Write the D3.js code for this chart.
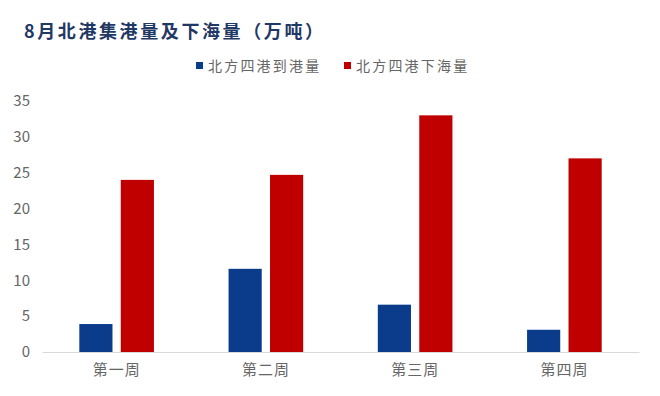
<!DOCTYPE html>
<html>
<head>
<meta charset="utf-8">
<script src="https://cdn.jsdelivr.net/npm/d3@7"></script>
<style>
  body { margin: 0; background: #fff; }
  text { font-family: "Noto Sans CJK SC", "DejaVu Sans", sans-serif; }
</style>
</head>
<body>
<svg id="chart"></svg>
<script>
// data
const weeks = ["第一周", "第二周", "第三周", "第四周"];
const seriesNames = ["北方四港到港量", "北方四港下海量"];
const arrivals = [3.9, 11.6, 6.6, 3.1];
const shipments = [24.0, 24.7, 33.0, 27.0];
const yTicks = [0, 5, 10, 15, 20, 25, 30, 35];
const colors = ["#0b3c8c", "#c00000"];

const width = 660, height = 396;
const margin = { top: 101, right: 21, bottom: 44, left: 42 };

const svg = d3.select("#chart")
  .attr("width", width)
  .attr("height", height);

// title
svg.append("text")
  .attr("x", 24)
  .attr("y", 38)
  .attr("font-size", 18)
  .attr("font-weight", 700)
  .attr("letter-spacing", 2.6)
  .attr("fill", "#1f3864")
  .text("8月北港集港量及下海量（万吨）");

// scales
const x = d3.scaleBand()
  .domain(weeks)
  .range([margin.left, width - margin.right]);

const bw = x.bandwidth();
const xInner = d3.scaleBand()
  .domain(seriesNames)
  .range([bw * 0.25, bw * 0.75])
  .paddingInner(0.2);

const y = d3.scaleLinear()
  .domain([0, 35])
  .range([height - margin.bottom, margin.top]);

// y axis labels
const yAxis = svg.append("g")
  .attr("transform", `translate(${margin.left}, 0)`)
  .call(d3.axisLeft(y).tickValues(yTicks).tickSize(0).tickPadding(12));
yAxis.select(".domain").remove();
yAxis.selectAll("text")
  .attr("font-size", 15)
  .attr("fill", "#666666")
  .attr("font-family", "\"Liberation Sans\", sans-serif");

// bars
const rows = weeks.map((w, i) => ({ week: w, values: [arrivals[i], shipments[i]] }));

const groups = svg.selectAll("g.group")
  .data(rows)
  .enter()
  .append("g")
  .attr("class", "group")
  .attr("transform", d => `translate(${x(d.week)}, 0)`);

groups.selectAll("rect")
  .data(d => d.values.map((v, j) => ({ name: seriesNames[j], value: v, idx: j })))
  .enter()
  .append("rect")
  .attr("x", d => xInner(d.name))
  .attr("width", xInner.bandwidth())
  .attr("y", d => y(d.value))
  .attr("height", d => y(0) - y(d.value))
  .attr("fill", d => colors[d.idx]);

// x axis
const xAxis = svg.append("g")
  .attr("transform", `translate(0, ${y(0)})`)
  .call(d3.axisBottom(x).tickSize(0).tickPadding(12));
xAxis.select(".domain")
  .attr("stroke", "#d9d9d9")
  .attr("stroke-width", 1.2);
xAxis.selectAll("text")
  .attr("font-size", 15)
  .attr("fill", "#666666")
  .attr("letter-spacing", 1);

// legend
const legendX = [196, 344];
const legend = svg.selectAll("g.legend")
  .data(seriesNames)
  .enter()
  .append("g")
  .attr("class", "legend")
  .attr("transform", (d, i) => `translate(${legendX[i]}, 66)`);

legend.append("rect")
  .attr("x", 0)
  .attr("y", -4)
  .attr("width", 7)
  .attr("height", 7)
  .attr("fill", (d, i) => colors[i]);

legend.append("text")
  .attr("x", 12)
  .attr("y", 5)
  .attr("font-size", 14)
  .attr("letter-spacing", 2.2)
  .attr("fill", "#666666")
  .text(d => d);
</script>
</body>
</html>
